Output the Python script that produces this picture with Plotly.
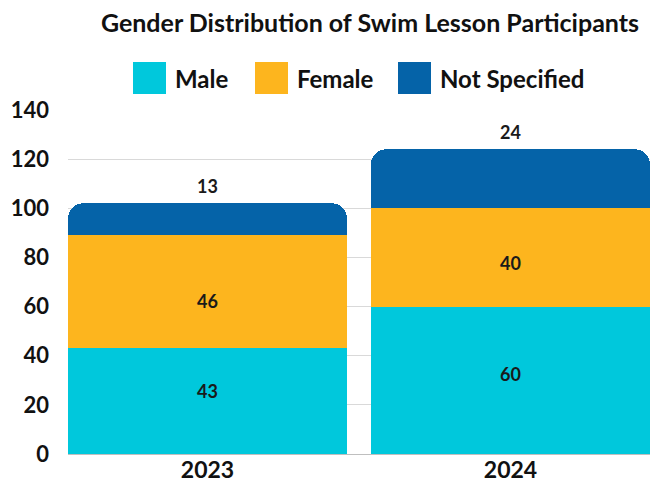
import plotly.graph_objects as go

years = ["2023", "2024"]
male = [43, 60]
female = [46, 40]
not_specified = [13, 24]
series_names = ["Male", "Female", "Not Specified"]
series_colors = ["#00C8DC", "#FDB51E", "#0563A8"]
y_ticks = [0, 20, 40, 60, 80, 100, 120, 140]

FONT = "Lato, 'Open Sans', sans-serif"
W, H = 650, 487
# plot area in page pixels
PL, PR, PT, PB = 68, 650, 110, 454
PW, PH = PR - PL, PB - PT
ML, MR, MT, MB = PL, W - PR, PT, H - PB

def px_x(px):
    return (px - PL) / PW

def px_y(py):
    return (PB - py) / PH

bargap = 0.079
fig = go.Figure()
values = [male, female, not_specified]
for name, vals, col in zip(series_names, values, series_colors):
    fig.add_trace(go.Bar(
        x=years, y=vals, name=name, marker=dict(color=col, line=dict(width=0)),
        showlegend=False, hoverinfo="skip",
    ))

label_font = dict(family=FONT, size=18, color="#1a1a1a", weight="bold")
annotations = []
male_shift = [10, 6]
female_shift = [-9, -6]
for i in range(len(years)):
    m, f, n = male[i], female[i], not_specified[i]
    annotations.append(dict(x=i, y=m / 2, xref="x", yref="y", text=str(m), showarrow=False,
                            yanchor="middle", yshift=male_shift[i], font=label_font))
    annotations.append(dict(x=i, y=m + f / 2, xref="x", yref="y", text=str(f), showarrow=False,
                            yanchor="middle", yshift=female_shift[i], font=label_font))
    annotations.append(dict(x=i, y=m + f + n, xref="x", yref="y", text=str(n), showarrow=False,
                            yanchor="bottom", yshift=4, font=label_font))

# custom legend (large swatches)
legend_swatch_px = [133, 255, 398]
for name, col, sx in zip(series_names, series_colors, legend_swatch_px):
    fig.add_shape(type="rect", xref="paper", yref="paper",
                  x0=px_x(sx), x1=px_x(sx + 33), y0=px_y(94), y1=px_y(62),
                  fillcolor=col, line=dict(width=0))
    annotations.append(dict(x=px_x(sx + 40), y=px_y(78), xref="paper", yref="paper",
                            text=name, showarrow=False, xanchor="left", yanchor="middle",
                            font=dict(family=FONT, size=24, color="#111111", weight="bold")))

fig.update_layout(
    width=W, height=H,
    margin=dict(l=ML, r=MR, t=MT, b=MB, autoexpand=False),
    barmode="stack", bargap=bargap, barcornerradius=15,
    paper_bgcolor="white", plot_bgcolor="white",
    title=dict(text="Gender Distribution of Swim Lesson Participants",
               x=370 / W, xanchor="center",
               y=1 - 23 / H, yanchor="middle",
               font=dict(family=FONT, size=25, color="#111111", weight="bold")),
    xaxis=dict(type="category", range=[-(1 - bargap) / 2, 1 + (1 - bargap) / 2],
               showgrid=False, showline=False, ticks="",
               tickfont=dict(family=FONT, size=23, color="#111111", weight="bold")),
    yaxis=dict(range=[0, 140], tickvals=y_ticks, showgrid=True, gridcolor="#D9D9D9",
               gridwidth=1, zeroline=True, zerolinecolor="#BFBFBF", zerolinewidth=1,
               showline=False, ticks="", ticklabelstandoff=18,
               tickfont=dict(family=FONT, size=22, color="#111111", weight="bold")),
    annotations=annotations,
)
fig.update_traces(cliponaxis=False)

fig.write_html(
    "out.html",
    config={"displayModeBar": False, "staticPlot": True},
    post_script="document.body.style.margin='0';document.body.style.overflow='hidden';",
)
